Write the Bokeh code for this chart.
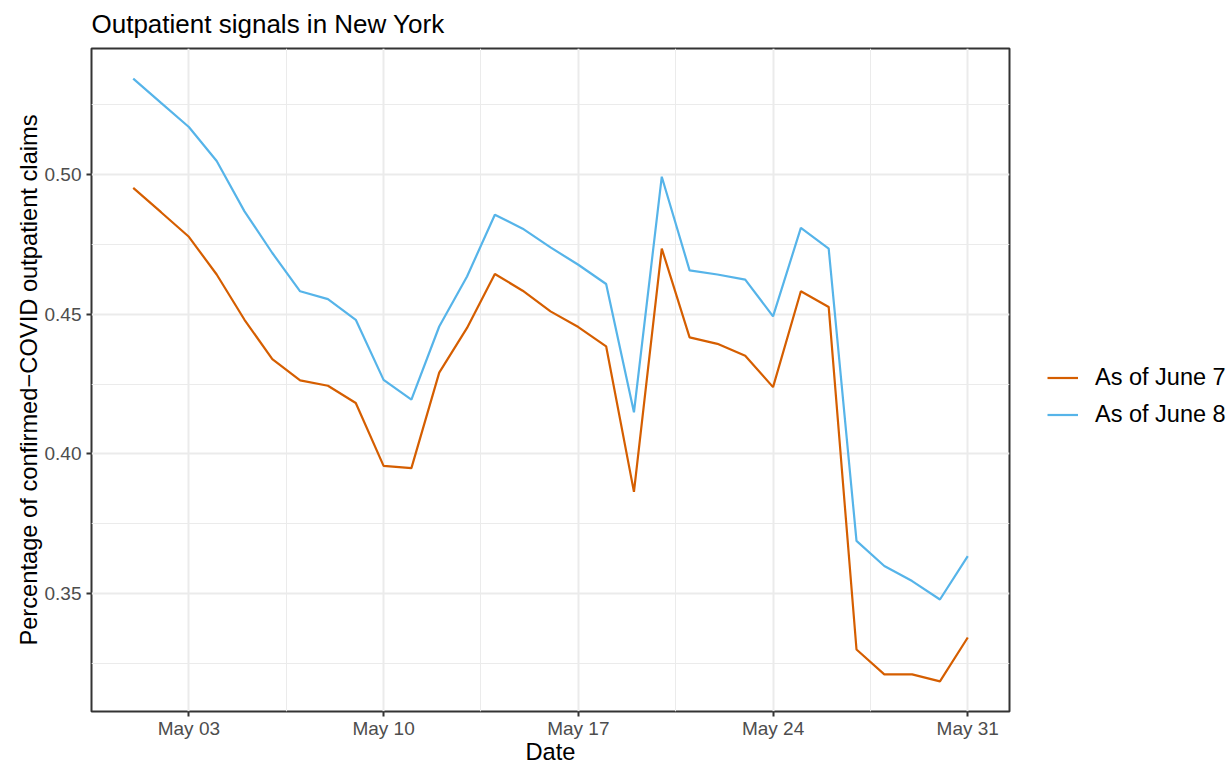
import pandas as pd
from bokeh.plotting import figure
from bokeh.models import (ColumnDataSource, Range1d, FixedTicker, DatetimeTickFormatter,
                          PrintfTickFormatter, Legend, LegendItem)
from bokeh.embed import file_html
from bokeh.resources import INLINE

# ---------------- data ----------------
dates = pd.date_range("2020-05-01", "2020-05-31", freq="D")
june7 = [0.4952, 0.4865, 0.4777, 0.4642, 0.4480, 0.4339, 0.4263, 0.4244, 0.4182, 0.3957,
         0.3949, 0.4291, 0.4451, 0.4644, 0.4584, 0.4510, 0.4454, 0.4385, 0.3864, 0.4735,
         0.4417, 0.4394, 0.4351, 0.4239, 0.4582, 0.4526, 0.3300, 0.3211, 0.3211, 0.3186, 0.3343]
june8 = [0.5343, 0.5256, 0.5170, 0.5048, 0.4868, 0.4719, 0.4582, 0.4554, 0.4480, 0.4265,
         0.4194, 0.4456, 0.4635, 0.4856, 0.4806, 0.4739, 0.4677, 0.4608, 0.4149, 0.4992,
         0.4657, 0.4642, 0.4624, 0.4492, 0.4809, 0.4735, 0.3689, 0.3599, 0.3545, 0.3479, 0.3634]
series_labels = ["As of June 7", "As of June 8"]
x_tick_dates = ["2020-05-03", "2020-05-10", "2020-05-17", "2020-05-24", "2020-05-31"]
y_ticks = [0.35, 0.40, 0.45, 0.50]
title_text = "Outpatient signals in New York"

FONT = "Liberation Sans"


def ms(ts):
    return pd.Timestamp(ts).value / 1e6


xt = [ms(d) for d in x_tick_dates]
x_minor = [(a + b) / 2 for a, b in zip(xt[:-1], xt[1:])]
ystep = y_ticks[1] - y_ticks[0]
y_minor = [y_ticks[0] - ystep / 2] + [(a + b) / 2 for a, b in zip(y_ticks[:-1], y_ticks[1:])] + [y_ticks[-1] + ystep / 2]

x0, x1 = ms(dates[0]), ms(dates[-1])
xpad = 0.05 * (x1 - x0)
yall = june7 + june8
ylo, yhi = min(yall), max(yall)
ypad = 0.05 * (yhi - ylo)

p = figure(x_axis_type="datetime", frame_width=918, frame_height=663,
           min_border_left=91, min_border_right=219, min_border_top=48, min_border_bottom=54,
           output_backend="svg", toolbar_location=None,
           x_range=Range1d(x0 - xpad, x1 + xpad), y_range=Range1d(ylo - ypad, yhi + ypad),
           title=title_text)
p.background_fill_color = "white"
p.border_fill_color = "white"
p.outline_line_color = "#333333"
p.outline_line_width = 2
p.outline_line_alpha = 1

src = ColumnDataSource(dict(date=dates, june7=june7, june8=june8))
r7 = p.line("date", "june7", source=src, line_color="#D55E00", line_width=2.2)
r8 = p.line("date", "june8", source=src, line_color="#56B4E9", line_width=2.2)

# ticks / grids
xticker = FixedTicker(ticks=xt, minor_ticks=x_minor)
yticker = FixedTicker(ticks=y_ticks, minor_ticks=y_minor)
p.xaxis.ticker = xticker
p.yaxis.ticker = yticker
p.xgrid.ticker = xticker
p.ygrid.ticker = yticker
fmt = "%b %d"
p.xaxis.formatter = DatetimeTickFormatter(days=fmt, months=fmt, hours=fmt, years=fmt)
p.yaxis.formatter = PrintfTickFormatter(format="%.2f")

p.grid.grid_line_color = "#EBEBEB"
p.grid.grid_line_width = 2
p.grid.minor_grid_line_color = "#EBEBEB"
p.grid.minor_grid_line_width = 1

for ax in (p.xaxis[0], p.yaxis[0]):
    ax.axis_line_color = None
    ax.major_tick_line_color = "#333333"
    ax.major_tick_line_width = 2
    ax.major_tick_out = 5
    ax.major_tick_in = 0
    ax.minor_tick_line_color = None
    ax.major_label_text_font = FONT
    ax.major_label_text_font_size = "19px"
    ax.major_label_text_color = "#4D4D4D"
    ax.axis_label_text_font = FONT
    ax.axis_label_text_font_size = "23.7px"
    ax.axis_label_text_font_style = "normal"
    ax.axis_label_text_color = "black"

p.xaxis.axis_label = "Date"
p.xaxis.major_label_standoff = 1
p.xaxis.axis_label_standoff = -3
p.yaxis.axis_label = "Percentage of confirmed\u2212COVID outpatient claims"
p.yaxis.major_label_standoff = 5
p.yaxis.axis_label_standoff = 0

p.title.text_font = FONT
p.title.text_font_size = "26px"
p.title.text_font_style = "normal"
p.title.text_color = "black"
p.title.align = "left"
p.title.vertical_align = "top"
p.title.offset = 0
p.title.standoff = 16

legend = Legend(items=[LegendItem(label=series_labels[0], renderers=[r7]),
                       LegendItem(label=series_labels[1], renderers=[r8])],
                location=(38, 283), border_line_color=None, background_fill_alpha=0,
                padding=0, margin=16, spacing=10, glyph_width=31, glyph_height=27,
                label_height=27, label_standoff=17, label_text_font=FONT,
                label_text_font_size="23.5px", label_text_color="black")
p.add_layout(legend, "right")

open("out.html", "w").write(file_html(p, INLINE))
